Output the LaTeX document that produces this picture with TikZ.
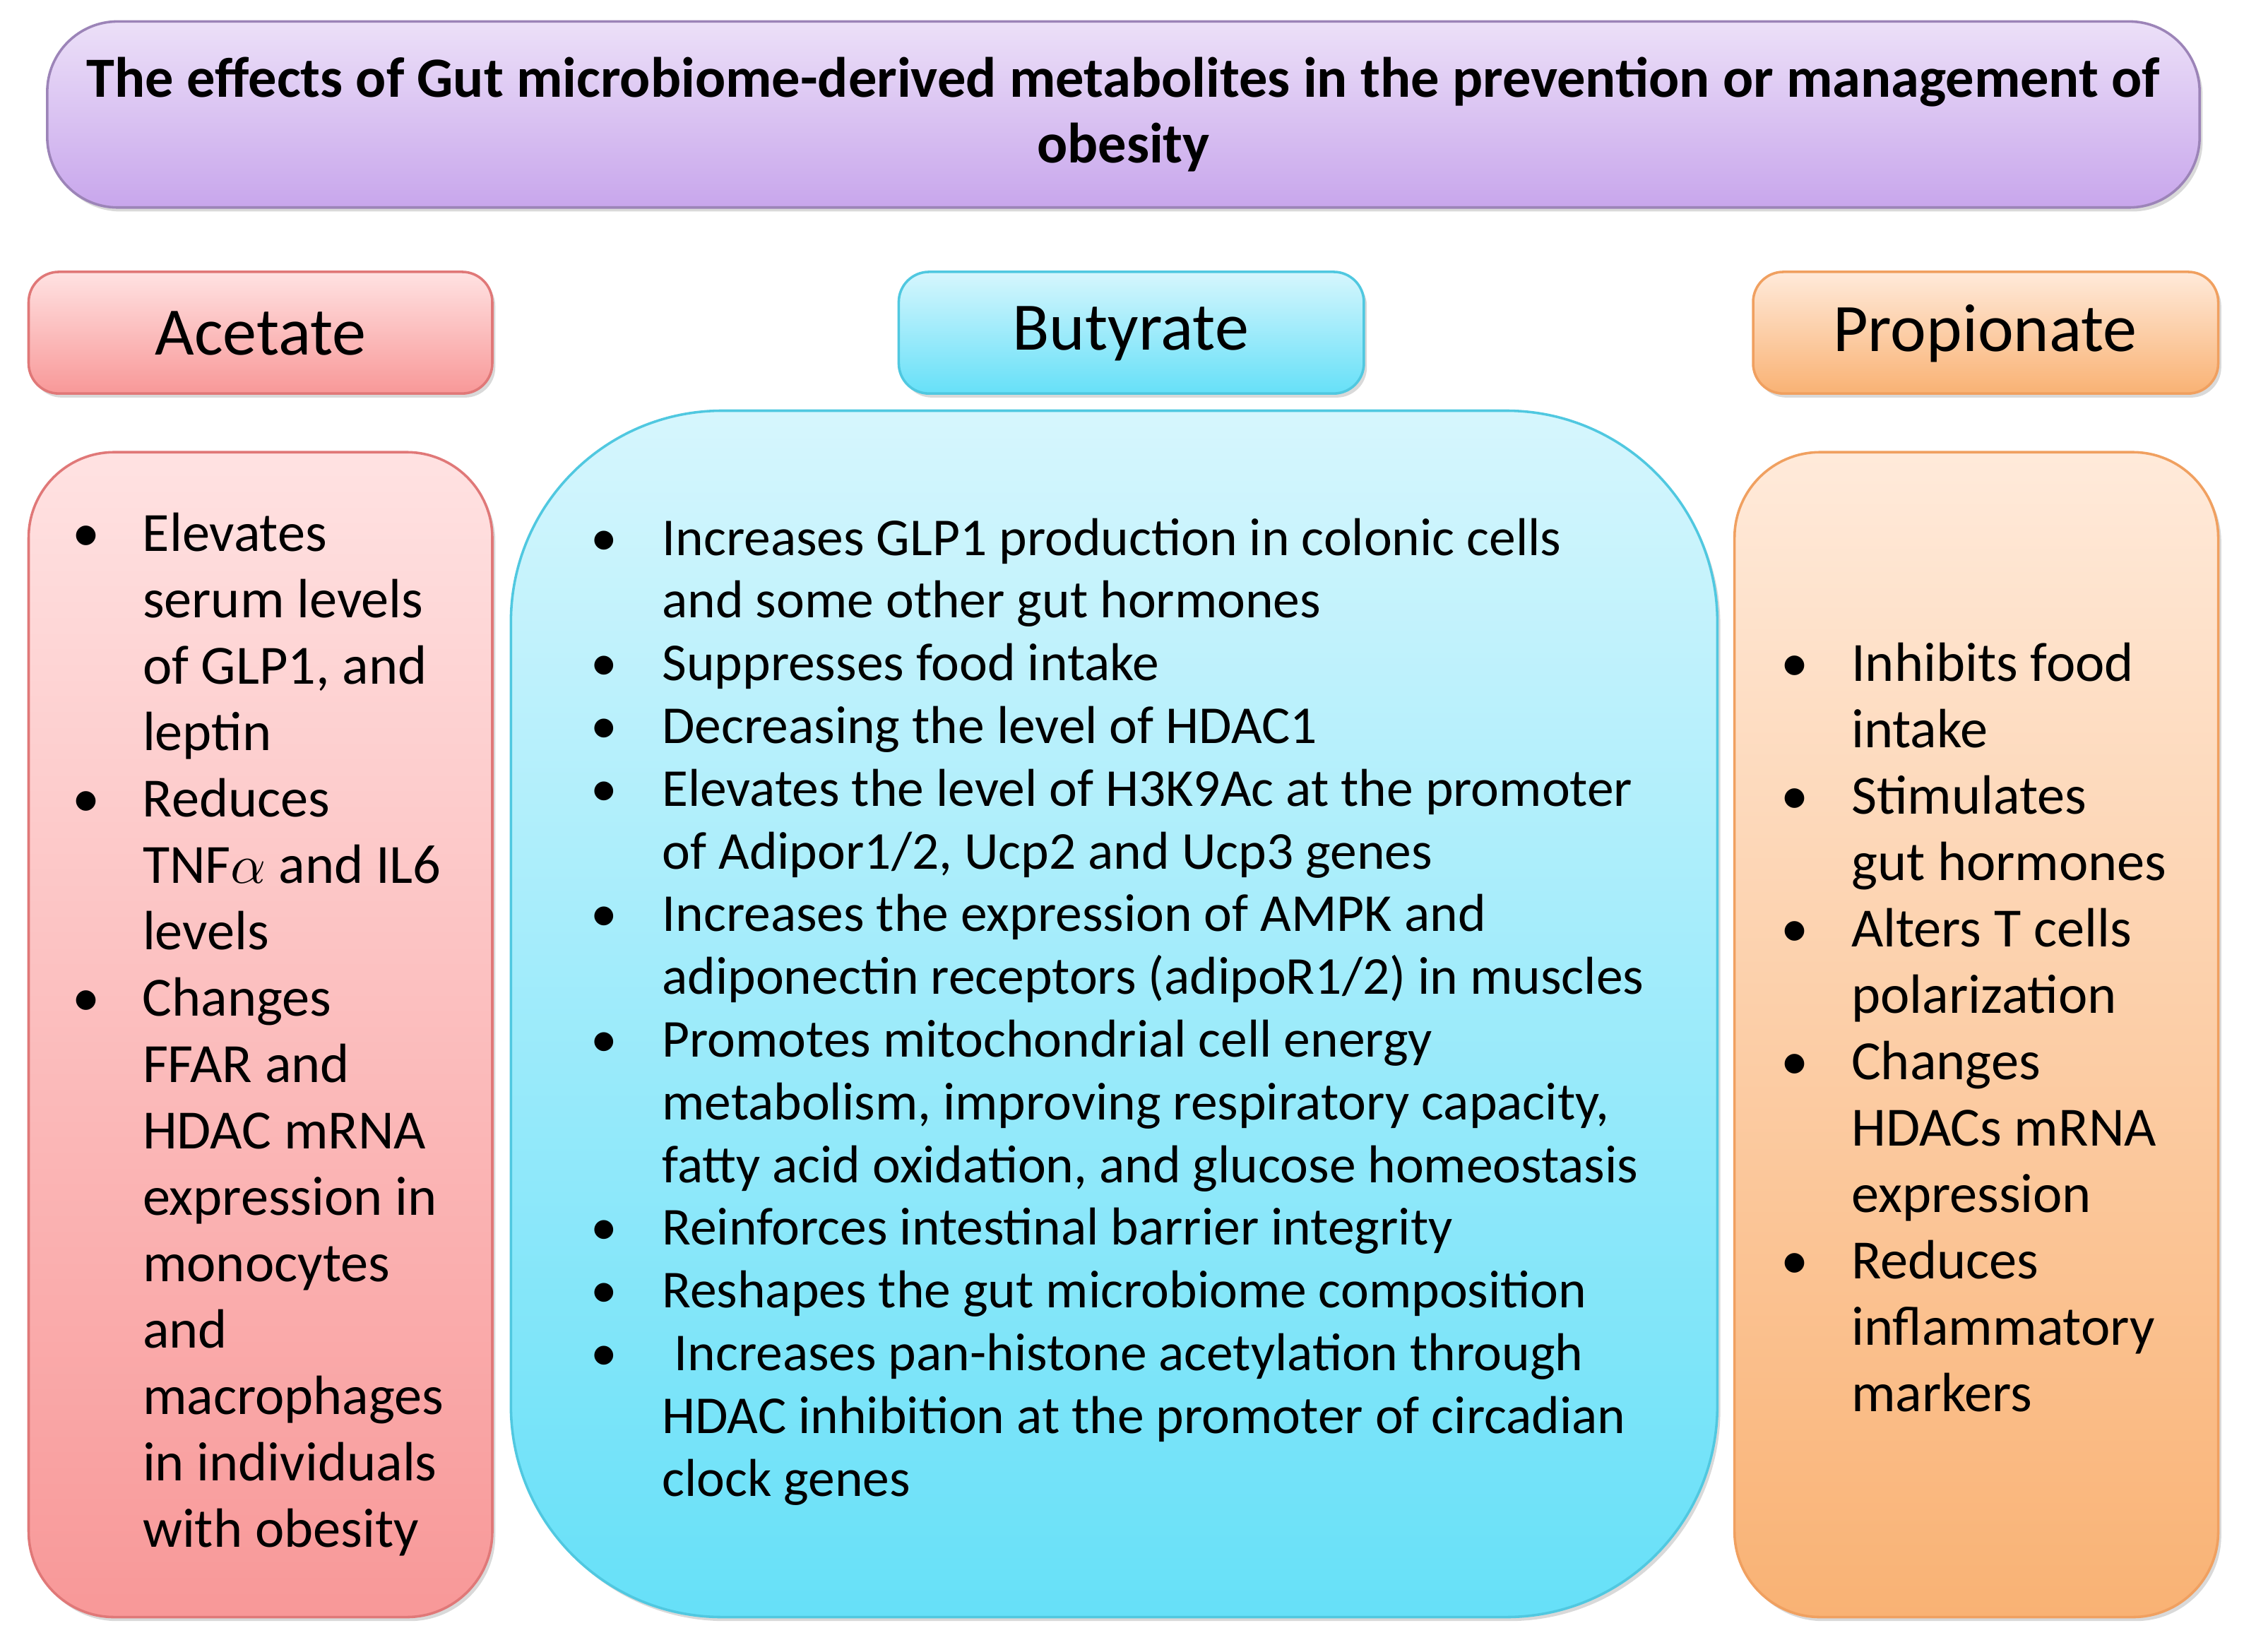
\documentclass[tikz,border=0pt]{standalone}
\usepackage{fontspec}
\setmainfont{Carlito}
\usetikzlibrary{shadows}
\definecolor{ptop}{HTML}{ECE0F8}\definecolor{pbot}{HTML}{C8A6EC}\definecolor{pdr}{HTML}{9C84B8}
\definecolor{rtop}{HTML}{FFE2E2}\definecolor{rbot}{HTML}{F89898}\definecolor{rdr}{HTML}{E07878}
\definecolor{ctop}{HTML}{D6F6FD}\definecolor{cbot}{HTML}{66E0F8}\definecolor{cdr}{HTML}{50C8E0}
\definecolor{otop}{HTML}{FFEADA}\definecolor{obot}{HTML}{F9B274}\definecolor{odr}{HTML}{F0A060}
\tikzset{
 box/.style={draw=#1dr, line width=0.5pt, top color=#1top, bottom color=#1bot, drop shadow={opacity=0.3,shadow xshift=0.6pt,shadow yshift=-0.8pt}},
 txt/.style={inner sep=0pt, anchor=base west, align=left},
}
\newcommand{\bt}{\textbullet}
\begin{document}
\begin{tikzpicture}[x=0.1mm,y=-0.1mm]
\useasboundingbox (0,0) rectangle (1568,1154);
% boxes
\path[box=p, rounded corners=14pt] (33,15) rectangle (1537,145);
\path[box=r, rounded corners=6pt] (20,190) rectangle (344,275);
\path[box=c, rounded corners=6pt] (628,190) rectangle (953,275);
\path[box=o, rounded corners=6pt] (1225,190) rectangle (1550,275);
\path[box=r, rounded corners=17pt] (20,316) rectangle (344,1130);
\path[box=c, rounded corners=42pt] (357,287) rectangle (1200,1130);
\path[box=o, rounded corners=17pt] (1212,316) rectangle (1550,1130);
% title
\node[inner sep=0pt, align=center, font=\bfseries\fontsize{11.3}{13.1}\selectfont] (title) at (785,80)
 {The effects of Gut microbiome-derived metabolites in the prevention or management of\\obesity};
\node[font=\fontsize{13.5}{16}\selectfont] (hA) at (182,233) {Acetate};
\node[font=\fontsize{13.5}{16}\selectfont] (hB) at (790,233) {Butyrate};
\node[font=\fontsize{13.5}{16}\selectfont] (hP) at (1387,233) {Propionate};
% acetate
\node[txt, font=\fontsize{11}{13.2}\selectfont] (tA) at (50,385) {\renewcommand{\arraystretch}{1}%
\begin{tabular}[t]{@{}p{4.9mm}@{}l@{}}
\bt & Elevates\\ & serum levels\\ & of GLP1, and\\ & leptin\\
\bt & Reduces\\ & TNF$\alpha$ and IL6\\ & levels\\
\bt & Changes\\ & FFAR and\\ & HDAC mRNA\\ & expression in\\ & monocytes\\ & and\\ & macrophages\\ & in individuals\\ & with obesity
\end{tabular}};
% butyrate
\node[txt, font=\fontsize{10.6}{12.47}\selectfont] (tB) at (412,388) {\renewcommand{\arraystretch}{1}%
\begin{tabular}[t]{@{}p{5mm}@{}l@{}}
\bt & Increases GLP1 production in colonic cells\\ & and some other gut hormones\\
\bt & Suppresses food intake\\
\bt & Decreasing the level of HDAC1\\
\bt & Elevates the level of H3K9Ac at the promoter\\ & of Adipor1/2, Ucp2 and Ucp3 genes\\
\bt & Increases the expression of AMPK and\\ & adiponectin receptors (adipoR1/2) in muscles\\
\bt & Promotes mitochondrial cell energy\\ & metabolism, improving respiratory capacity,\\ & fatty acid oxidation, and glucose homeostasis\\
\bt & Reinforces intestinal barrier integrity\\
\bt & Reshapes the gut microbiome composition\\
\bt & \ Increases pan-histone acetylation through\\ & HDAC inhibition at the promoter of circadian\\ & clock genes
\end{tabular}};
% propionate
\node[txt, font=\fontsize{11}{13.2}\selectfont] (tP) at (1244,476) {\renewcommand{\arraystretch}{1}%
\begin{tabular}[t]{@{}p{4.9mm}@{}l@{}}
\bt & Inhibits food\\ & intake\\
\bt & Stimulates\\ & gut hormones\\
\bt & Alters T cells\\ & polarization\\
\bt & Changes\\ & HDACs mRNA\\ & expression\\
\bt & Reduces\\ & inflammatory\\ & markers
\end{tabular}};
\end{tikzpicture}
\end{document}
